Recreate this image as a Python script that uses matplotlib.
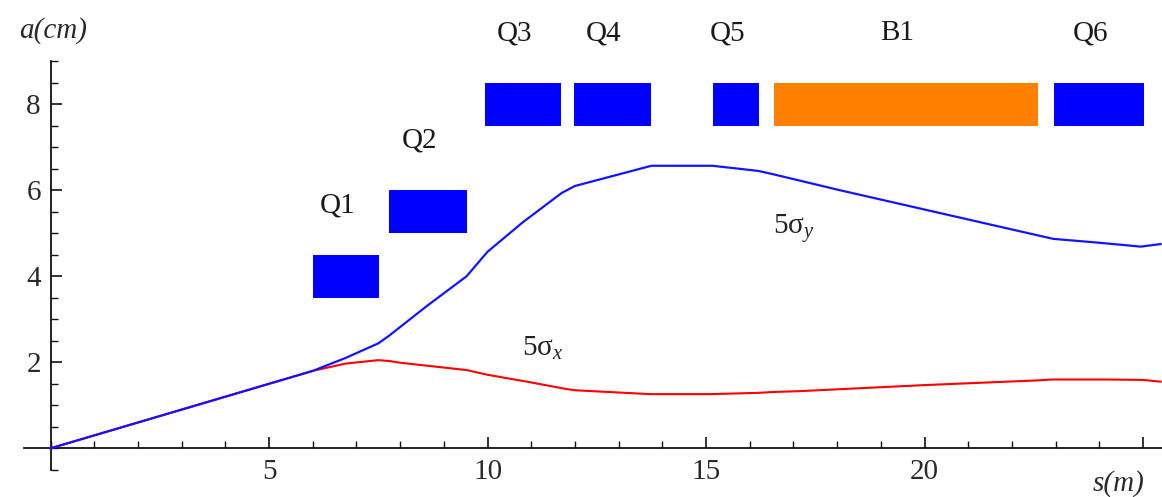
import matplotlib
matplotlib.use("Agg")
import matplotlib.pyplot as plt
from matplotlib.patches import Rectangle
from matplotlib.ticker import MultipleLocator

# beamline elements: name, start / end along s (m), aperture band (cm)
ELEMENT_NAMES = ["Q1", "Q2", "Q3", "Q4", "Q5", "B1", "Q6"]
ELEMENT_START = [6.0, 7.75, 9.95, 11.97, 15.15, 16.55, 22.97]
ELEMENT_END = [7.52, 9.53, 11.69, 13.75, 16.22, 22.59, 25.02]
ELEMENT_LOW = [3.5, 5.0, 7.5, 7.5, 7.5, 7.5, 7.5]
ELEMENT_HIGH = [4.5, 6.0, 8.5, 8.5, 8.5, 8.5, 8.5]
ELEMENT_KIND = ["quad", "quad", "quad", "quad", "quad", "dipole", "quad"]

# 5 sigma beam envelopes
S_Y = [0, 6.0, 6.75, 7.5, 7.75, 8.0, 8.6, 9.52, 10.0, 10.8, 11.7, 12.0,
       13.75, 15.15, 16.2, 16.55, 18.07, 22.6, 22.95, 24.0, 24.95, 25.4]
SIGMA_Y = [0, 1.8, 2.1, 2.44, 2.62, 2.82, 3.3, 4.0, 4.57, 5.25, 5.94, 6.1,
           6.57, 6.57, 6.45, 6.37, 6.0, 4.95, 4.87, 4.78, 4.69, 4.75]

S_X = [0, 6.0, 6.75, 7.5, 7.75, 8.0, 9.52, 10.0, 10.9, 11.8, 12.0, 13.72,
       15.1, 16.2, 16.55, 17.15, 20.0, 22.6, 22.9, 24.2, 25.0, 25.4]
SIGMA_X = [0, 1.8, 1.97, 2.05, 2.03, 1.99, 1.82, 1.71, 1.55, 1.38, 1.35, 1.26,
           1.26, 1.29, 1.31, 1.33, 1.47, 1.58, 1.6, 1.6, 1.59, 1.55]

KIND_COLORS = {"quad": "#0000FF", "dipole": "#FF8000"}
TEXT_SIZE = 21

plt.rcParams["font.family"] = ["Liberation Serif", "DejaVu Serif"]
plt.rcParams["mathtext.fontset"] = "custom"
plt.rcParams["mathtext.rm"] = "Liberation Serif"
plt.rcParams["mathtext.it"] = "Liberation Serif:italic"

fig = plt.figure(figsize=(11.62, 4.97), dpi=100)
ax = fig.add_axes([0.0209, 0.0547, 0.9797, 0.822])

ax.plot(S_X, SIGMA_X, color="#FF0000", lw=1.5, solid_joinstyle="round", zorder=3)
ax.plot(S_Y, SIGMA_Y, color="#1414FF", lw=1.6, solid_joinstyle="round", zorder=4)

for name, s0, s1, lo, hi, kind in zip(ELEMENT_NAMES, ELEMENT_START, ELEMENT_END,
                                      ELEMENT_LOW, ELEMENT_HIGH, ELEMENT_KIND):
    ax.add_patch(Rectangle((s0, lo), s1 - s0, hi - lo, facecolor=KIND_COLORS[kind],
                           edgecolor="none", zorder=2))
    ax.text((s0 + s1) / 2 - 0.2, hi + 1.15, name, fontsize=TEXT_SIZE, ha="center",
            va="center", color="#1a1a1a", clip_on=False)

ax.text(17.0, 5.12, r"5σ$_{\mathit{y}}$", fontsize=TEXT_SIZE, ha="center", va="center", color="#222222")
ax.text(11.27, 2.33, r"5σ$_{\mathit{x}}$", fontsize=TEXT_SIZE, ha="center", va="center", color="#222222")

ax.set_xlim(-0.6, 25.45)
ax.set_ylim(-0.5, 9.0)

for side in ("top", "right"):
    ax.spines[side].set_visible(False)
ax.spines["left"].set_position(("data", 0))
ax.spines["bottom"].set_position(("data", 0))
ax.spines["left"].set_bounds(-0.5, 9.0)
for side in ("left", "bottom"):
    ax.spines[side].set_linewidth(1.3)
    ax.spines[side].set_color("#111111")

ax.xaxis.set_major_locator(MultipleLocator(5))
ax.xaxis.set_minor_locator(MultipleLocator(1))
ax.yaxis.set_major_locator(MultipleLocator(2))
ax.yaxis.set_minor_locator(MultipleLocator(0.5))
ax.set_xticks([5, 10, 15, 20, 25])
ax.set_xticklabels(["5", "10", "15", "20", ""])
ax.set_yticks([2, 4, 6, 8])
ax.tick_params(which="major", direction="in", length=8, width=1.2, color="#111111",
               labelsize=TEXT_SIZE, labelcolor="#2a2a2a")
ax.tick_params(which="minor", direction="in", length=5, width=1.0, color="#111111")
ax.tick_params(axis="x", pad=8)
ax.tick_params(axis="y", pad=7)

ax.text(0.05, 9.72, "a(cm)", fontsize=TEXT_SIZE, style="italic", ha="center", va="center",
        color="#2a2a2a", clip_on=False)
ax.text(24.43, -0.81, "s(m)", fontsize=TEXT_SIZE, style="italic", ha="center", va="center",
        color="#2a2a2a", clip_on=False)

fig.savefig("out.png", dpi=100)
